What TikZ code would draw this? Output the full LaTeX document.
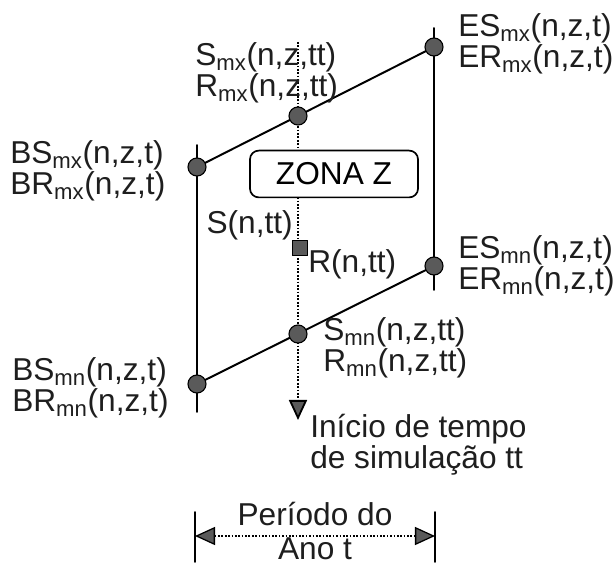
\documentclass[tikz,border=0pt]{standalone}
\usepackage{fontspec}
\setmainfont{Liberation Sans}
\usepackage{tikz}
\usetikzlibrary{arrows.meta}
\definecolor{dotgray}{HTML}{5A5A5A}
\definecolor{inkgray}{HTML}{1E1E1E}
\newcommand{\lo}[1]{\textsubscript{#1}}

\begin{document}
\begin{tikzpicture}[x=0.025cm, y=-0.025cm, line join=round, line cap=round,
    dot/.style={circle, draw=black, fill=dotgray, line width=0.8pt, minimum size=0.45cm, inner sep=0pt},
    lbl/.style={font=\fontsize{22.5}{22}\selectfont, text=inkgray, align=left, inner sep=0pt},
    dotline/.style={line cap=butt, dash pattern=on 1.2pt off 1.2pt},
    >={Triangle[length=0.5cm, width=0.45cm, fill=dotgray]}]
      \useasboundingbox (0,0) rectangle (614,564);
      % frame of the year and the zone
      \coordinate (LT) at (197,145); \coordinate (LB) at (197,412);
      \coordinate (RT) at (434,28);  \coordinate (RB) at (434,290);
      \coordinate (MT) at (298,42);  \coordinate (MB) at (298,420);
      \coordinate (A) at (197,167); \coordinate (B) at (434,47);
      \coordinate (C) at (197,384); \coordinate (D) at (434,266);
      \coordinate (E) at (298,116); \coordinate (F) at (298,334);
      \draw[line width=1.4pt] (LT) -- (LB);
      \draw[line width=1.4pt] (RT) -- (RB);
      \draw[line width=1.4pt] (A) -- (B);
      \draw[line width=1.4pt] (C) -- (D);
      \draw[dotline, line width=1.3pt, ->] (MT) -- (MB);
      % points
      \node[dot] (bmx) at (A) {};
      \node[dot] (emx) at (B) {};
      \node[dot] (bmn) at (C) {};
      \node[dot] (emn) at (D) {};
      \node[dot] (smx) at (E) {};
      \node[dot] (smn) at (F) {};
      \node[draw=black, fill=dotgray, line width=0.8pt, minimum size=0.38cm, inner sep=0pt] (sq) at (300,248) {};
      \node[draw=black, fill=white, line width=1.2pt, rounded corners=0.22cm,
            minimum width=4.2cm, minimum height=1.17cm, font=\fontsize{22.5}{22}\selectfont] (zona) at (334,174) {ZONA Z};
      % labels
      \node[lbl, anchor=west] (bmxl) at (10,171) {BS\lo{mx}(n,z,t)\\BR\lo{mx}(n,z,t)};
      \node[lbl, anchor=west] (bmnl) at (12,388) {BS\lo{mn}(n,z,t)\\BR\lo{mn}(n,z,t)};
      \node[lbl, anchor=west] (emxl) at (458,44) {ES\lo{mx}(n,z,t)\\ER\lo{mx}(n,z,t)};
      \node[lbl, anchor=west] (emnl) at (458,266) {ES\lo{mn}(n,z,t)\\ER\lo{mn}(n,z,t)};
      \node[lbl, anchor=west] (smxl) at (195,73) {S\lo{mx}(n,z,tt)\\R\lo{mx}(n,z,tt)};
      \node[lbl, anchor=west] (smnl) at (323,348) {S\lo{mn}(n,z,tt)\\R\lo{mn}(n,z,tt)};
      \node[lbl, anchor=east] (sl) at (293,225) {S(n,tt)};
      \node[lbl, anchor=west] (rl) at (308,264) {R(n,tt)};
      \node[lbl, anchor=west] (ini) at (310,445) {Início de tempo\\de simulação tt};
      % period of the year
      \coordinate (PL) at (195,512); \coordinate (PR) at (435,512);
      \draw[line width=1.4pt] (PL) -- ++(0,50);
      \draw[line width=1.4pt] (PR) -- ++(0,50);
      \draw[dotline, line width=0.9pt, <->] ([yshift=-0.6cm]PL) -- ([yshift=-0.6cm]PR);
      \node[lbl, align=center] (per) at (315,531) {Período do\\[1.5pt]Ano t};
\end{tikzpicture}
\end{document}
